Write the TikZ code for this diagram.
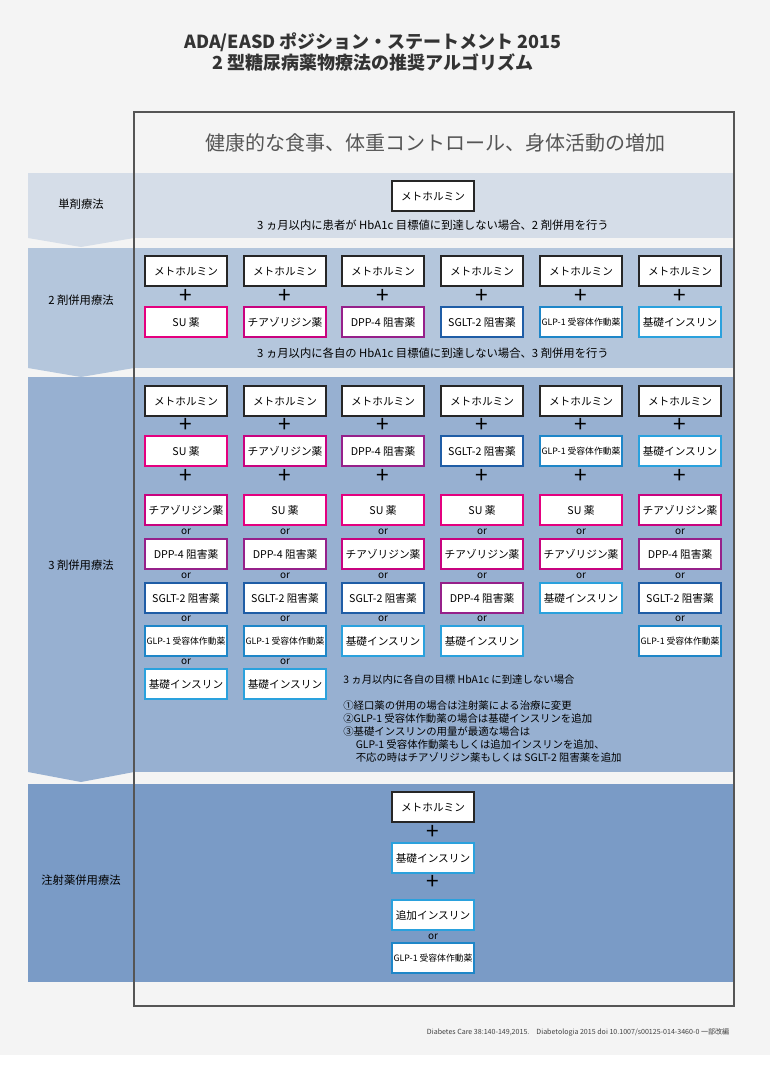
\documentclass[tikz,border=0pt]{standalone}
\usepackage{fontspec}
\setmainfont{Noto Sans CJK JP}
\usetikzlibrary{positioning}
\definecolor{bgc}{HTML}{F4F4F4}
\definecolor{bandA}{HTML}{D5DDE8}
\definecolor{bandB}{HTML}{B4C6DC}
\definecolor{bandC}{HTML}{97B0D1}
\definecolor{bandD}{HTML}{7A9BC6}
\definecolor{frame}{HTML}{555555}
\definecolor{cSU}{HTML}{E4007F}
\definecolor{cTZD}{HTML}{C8037F}
\definecolor{cDPP}{HTML}{96208A}
\definecolor{cSGLT}{HTML}{1F5DA6}
\definecolor{cGLP}{HTML}{1E86C8}
\definecolor{cBAS}{HTML}{2AA1DD}
\newcommand{\glpname}{{\fontsize{6.6}{8}\selectfont GLP-1 受容体作動薬}}
\begin{document}
\begin{tikzpicture}[x=0.75pt, y=-0.75pt, font=\fontsize{8}{10}\selectfont]
\tikzstyle{drug}=[rectangle, fill=white, line width=1.4pt, minimum width=61pt, minimum height=22pt, inner sep=1pt]
\tikzstyle{met}=[drug, draw=black!85]
\tikzstyle{su}=[drug, draw=cSU]
\tikzstyle{tzd}=[drug, draw=cTZD]
\tikzstyle{dpp}=[drug, draw=cDPP]
\tikzstyle{sglt}=[drug, draw=cSGLT]
\tikzstyle{glp}=[drug, draw=cGLP]
\tikzstyle{bas}=[drug, draw=cBAS]
\tikzstyle{plus}=[inner sep=0pt, font=\fontsize{17}{17}\selectfont]
\tikzstyle{ortext}=[inner sep=0pt, font=\fontsize{7.5}{9}\selectfont]
\tikzstyle{label}=[inner sep=0pt, font=\fontsize{8.5}{10}\selectfont]

% page and frame
\fill[bgc] (0,0) rectangle (770,1055);
\fill[white] (0,1055) rectangle (770,1066);
\useasboundingbox (0,0) rectangle (770,1066);
\node[font=\bfseries\fontsize{13.5}{16}\selectfont, align=center, text=black!80] (title) at (373,52) {ADA/EASD ポジション・ステートメント 2015\\2 型糖尿病薬物療法の推奨アルゴリズム};

% bands
\fill[bandA] (28,173) rectangle (734,238);
\fill[bandA] (28,238) -- (134,238) -- (81,247) -- cycle;
\fill[bandB] (28,248) rectangle (734,368);
\fill[bandB] (28,368) -- (134,368) -- (81,377) -- cycle;
\fill[bandC] (28,377) rectangle (734,772);
\fill[bandC] (28,772) -- (134,772) -- (81,782) -- cycle;
\fill[bandD] (28,784) rectangle (734,982);
\draw[frame, line width=1.5pt] (134,112) rectangle (734,1006);

\node[text=frame, font=\fontsize{15}{18}\selectfont] (head) at (435,143) {健康的な食事、体重コントロール、身体活動の増加};
\node[label] (L1) at (81,204) {単剤療法};
\node[label] (L2) at (81,300) {2 剤併用療法};
\node[label] (L3) at (81,565) {3 剤併用療法};
\node[label] (L4) at (81,880) {注射薬併用療法};

% mono
\node[met] (M0) at (433,196) {メトホルミン};
\node[label] (N1) at (433,225) {3 ヵ月以内に患者が HbA1c 目標値に到達しない場合、2 剤併用を行う};

% dual
\foreach \x [count=\i] in {186,285,383,482,581,680} {
  \node[met] (D\i a) at (\x,271) {メトホルミン};
  \node[plus] (D\i p) at (\x,296) {+};
  \node[met] (T\i a) at (\x,401) {メトホルミン};
  \node[plus] (T\i p) at (\x,425) {+};
  \node[plus] (T\i q) at (\x,476) {+};
}
\node[su] (D1b) at (186,322) {SU 薬};
\node[tzd] (D2b) at (285,322) {チアゾリジン薬};
\node[dpp] (D3b) at (383,322) {DPP-4 阻害薬};
\node[sglt] (D4b) at (482,322) {SGLT-2 阻害薬};
\node[glp] (D5b) at (581,322) {\glpname};
\node[bas] (D6b) at (680,322) {基礎インスリン};
\node[label] (N2) at (433,353) {3 ヵ月以内に各自の HbA1c 目標値に到達しない場合、3 剤併用を行う};

% triple
\node[su] (T1b) at (186,451) {SU 薬};
\node[tzd] (T2b) at (285,451) {チアゾリジン薬};
\node[dpp] (T3b) at (383,451) {DPP-4 阻害薬};
\node[sglt] (T4b) at (482,451) {SGLT-2 阻害薬};
\node[glp] (T5b) at (581,451) {\glpname};
\node[bas] (T6b) at (680,451) {基礎インスリン};

\node[tzd] (T1c) at (186,510) {チアゾリジン薬};
\node[dpp] (T1d) at (186,554) {DPP-4 阻害薬};
\node[sglt] (T1e) at (186,598) {SGLT-2 阻害薬};
\node[glp] (T1f) at (186,641) {\glpname};
\node[bas] (T1g) at (186,684) {基礎インスリン};
\node[su] (T2c) at (285,510) {SU 薬};
\node[dpp] (T2d) at (285,554) {DPP-4 阻害薬};
\node[sglt] (T2e) at (285,598) {SGLT-2 阻害薬};
\node[glp] (T2f) at (285,641) {\glpname};
\node[bas] (T2g) at (285,684) {基礎インスリン};
\node[su] (T3c) at (383,510) {SU 薬};
\node[tzd] (T3d) at (383,554) {チアゾリジン薬};
\node[sglt] (T3e) at (383,598) {SGLT-2 阻害薬};
\node[bas] (T3f) at (383,641) {基礎インスリン};
\node[su] (T4c) at (482,510) {SU 薬};
\node[tzd] (T4d) at (482,554) {チアゾリジン薬};
\node[dpp] (T4e) at (482,598) {DPP-4 阻害薬};
\node[bas] (T4f) at (482,641) {基礎インスリン};
\node[su] (T5c) at (581,510) {SU 薬};
\node[tzd] (T5d) at (581,554) {チアゾリジン薬};
\node[bas] (T5e) at (581,598) {基礎インスリン};
\node[tzd] (T6c) at (680,510) {チアゾリジン薬};
\node[dpp] (T6d) at (680,554) {DPP-4 阻害薬};
\node[sglt] (T6e) at (680,598) {SGLT-2 阻害薬};
\node[glp] (T6f) at (680,641) {\glpname};

\foreach \x/\n in {186/4,285/4,383/3,482/3,581/2,680/3} {
  \foreach \y [count=\k] in {532,576,619,662} {
    \ifnum\k>\n\else \node[ortext] at (\x,\y) {or}; \fi
  }
}

\node[label, anchor=west, align=left, font=\fontsize{7.8}{9.75}\selectfont] (N3) at (343,680) {3 ヵ月以内に各自の目標 HbA1c に到達しない場合};
\node[label, anchor=north west, align=left, font=\fontsize{7.8}{9.75}\selectfont] (N4) at (343,700) {①経口薬の併用の場合は注射薬による治療に変更\\②GLP-1 受容体作動薬の場合は基礎インスリンを追加\\③基礎インスリンの用量が最適な場合は\\\hspace*{1.2em}GLP-1 受容体作動薬もしくは追加インスリンを追加、\\\hspace*{1.2em}不応の時はチアゾリジン薬もしくは SGLT-2 阻害薬を追加};

% injection
\node[met] (J1) at (433,807) {メトホルミン};
\node[plus] (J1p) at (433,832) {+};
\node[bas] (J2) at (433,858) {基礎インスリン};
\node[plus] (J2p) at (433,882) {+};
\node[bas] (J3) at (433,915) {追加インスリン};
\node[ortext] (J3o) at (433,937) {or};
\node[glp] (J4) at (433,958) {\glpname};

\node[anchor=east, font=\fontsize{5.3}{6}\selectfont, text=black!75] (foot) at (734,1032) {Diabetes Care 38:140-149,2015.\quad Diabetologia 2015 doi 10.1007/s00125-014-3460-0 一部改編};
\end{tikzpicture}
\end{document}
